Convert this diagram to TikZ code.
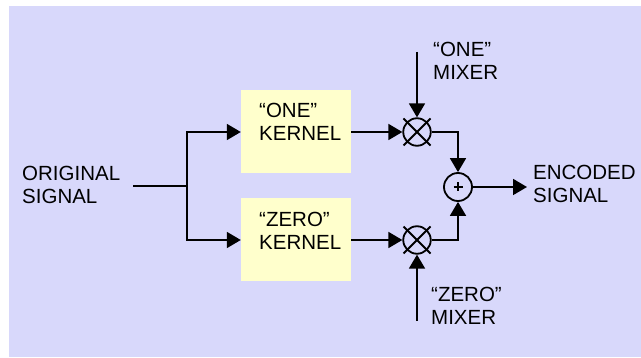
\documentclass[tikz,border=0pt]{standalone}
\usepackage{fontspec}
\setmainfont{Liberation Sans}
\usetikzlibrary{arrows.meta}
\definecolor{bgc}{RGB}{216,216,251}
\definecolor{boxc}{RGB}{255,255,204}
\begin{document}
\begin{tikzpicture}[x=1pt,y=-1pt,
  wire/.style={line width=1.8pt},
  arr/.style={wire,-{Triangle[length=14pt,width=16pt]}},
  lbl/.style={anchor=north west,inner sep=0pt,align=left,font=\fontsize{20.5}{23}\selectfont},
  kbox/.style={fill=boxc,draw=none,minimum width=110pt,minimum height=83pt,inner sep=0pt},
  ring/.style={circle,draw,line width=1.8pt,minimum size=27.5pt,inner sep=0pt}]
\useasboundingbox (0,0) rectangle (641,358);
\fill[bgc] (9,6) rectangle (641,357);
% labels
\node[lbl] (o) at (22,166) {ORIGINAL\\SIGNAL};
\node[lbl] (e) at (533,165) {ENCODED\\SIGNAL};
\node[lbl] (l1) at (433,42) {“ONE”\\MIXER};
\node[lbl] (l0) at (431,287) {“ZERO”\\MIXER};
% kernels
\node[kbox] (k1) at (296,132) {};
\node[kbox] (k0) at (296,240) {};
\node[lbl] (t1txt) at (259,103) {“ONE”\\KERNEL};
\node[lbl] (t0txt) at (259,212) {“ZERO”\\KERNEL};
% mixers and sum
\node[ring] (m1) at (417,132) {};
\node[ring] (m0) at (417,240) {};
\node[ring,minimum size=28pt] (p) at (458,187) {};
\draw[wire] (m1.center) +(-13.5,-13.5) -- +(13.5,13.5);
\draw[wire] (m1.center) +(-13.5,13.5) -- +(13.5,-13.5);
\draw[wire] (m0.center) +(-13.5,-13.5) -- +(13.5,13.5);
\draw[wire] (m0.center) +(-13.5,13.5) -- +(13.5,-13.5);
\draw[line width=1.4pt] (p.center) +(-4.5,0) -- +(4.5,0);
\draw[line width=1.4pt] (p.center) +(0,-4.5) -- +(0,4.5);
% coordinates
\coordinate (in) at (133,186);
\coordinate (split) at (187,186);
\coordinate (out) at (527,187);
\coordinate (top) at (417,52);
\coordinate (bot) at (417,321);
% connectors
\draw[wire] (in) -- (split);
\draw[arr] (split) |- (k1.west);
\draw[arr] (split) |- (k0.west);
\draw[arr] (k1.east) -- (m1.west);
\draw[arr] (k0.east) -- (m0.west);
\draw[arr] (top) -- (m1.north);
\draw[arr] (bot) -- (m0.south);
\draw[arr] (m1.east) -| (p.north);
\draw[arr] (m0.east) -| (p.south);
\draw[arr] (p.east) -- (out);
\end{tikzpicture}
\end{document}
